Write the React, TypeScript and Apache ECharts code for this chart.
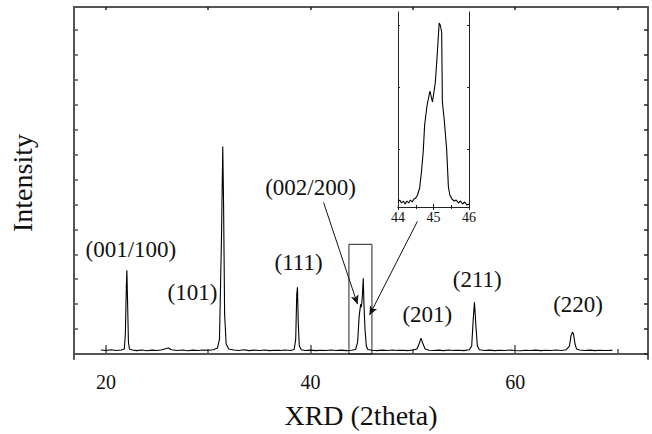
import React, { useEffect, useRef } from "react";
import * as echarts from "echarts";

// Main XRD pattern (2theta, intensity in arbitrary units)
const twoTheta = [
  19.5, 20.0, 20.5, 21.0, 21.5, 21.8, 21.9, 22.0, 22.05, 22.1, 22.2, 22.3, 22.6,
  23.0, 23.5, 24.0, 24.5, 25.0, 25.5, 25.9, 26.1, 26.4, 27.0, 27.5, 28.0, 28.5,
  29.0, 29.5, 30.0, 30.5, 30.9, 31.1, 31.3, 31.42, 31.5, 31.6, 31.75, 32.0, 32.5,
  33.0, 33.5, 34.0, 34.5, 35.0, 35.5, 36.0, 36.5, 37.0, 37.5, 38.0, 38.4, 38.55,
  38.65, 38.72, 38.8, 38.9, 39.1, 39.5, 40.0, 40.5, 41.0, 41.5, 42.0, 42.5, 43.0,
  43.5, 44.0, 44.4, 44.6, 44.75, 44.9, 44.97, 45.05, 45.15, 45.22, 45.32, 45.45,
  45.6, 46.0, 46.5, 47.0, 47.5, 48.0, 48.5, 49.0, 49.5, 50.0, 50.4, 50.6, 50.8,
  50.95, 51.2, 51.6, 52.0, 52.5, 53.0, 53.5, 54.0, 54.5, 55.0, 55.5, 55.75, 55.9,
  56.02, 56.15, 56.3, 56.5, 57.0, 57.5, 58.0, 58.5, 59.0, 59.5, 60.0, 60.5, 61.0,
  61.5, 62.0, 62.5, 63.0, 63.5, 64.0, 64.5, 65.0, 65.3, 65.45, 65.6, 65.7, 65.85,
  66.0, 66.3, 66.8, 67.3, 67.8, 68.3, 68.8, 69.5,
];
const intensity = [
  4.0, 3.5, 4.2, 3.6, 4.0, 5.0, 20, 70, 84, 60, 12, 5.0, 4.0,
  3.4, 4.1, 3.3, 3.9, 3.5, 4.3, 5.5, 6.0, 4.2, 3.6, 4.0, 3.3, 3.9,
  3.6, 4.1, 3.8, 4.3, 6.0, 15, 120, 208, 150, 40, 10, 5.0, 4.0,
  3.6, 4.2, 3.4, 3.9, 3.5, 4.1, 3.4, 3.8, 3.6, 4.0, 3.5, 4.5, 15,
  60, 67, 30, 8.0, 4.3, 3.6, 3.9, 3.4, 3.8, 3.5, 4.1, 3.6, 3.9,
  3.4, 3.8, 4.5, 12, 38, 50, 47, 56, 76, 50, 25, 8.0,
  4.5, 3.8, 3.4, 3.9, 3.5, 4.1, 3.6, 3.8, 3.4, 4.0, 5.0, 10, 16,
  11, 5.0, 3.8, 3.5, 3.9, 3.4, 4.0, 3.6, 3.8, 3.4, 4.2, 8.0, 35,
  52, 30, 8.0, 4.3, 3.6, 3.9, 3.4, 3.8, 3.5, 4.0, 3.6, 3.3, 3.8,
  3.5, 3.9, 3.4, 3.7, 3.5, 4.0, 3.6, 4.3, 8.0, 18, 22, 20, 10,
  5.0, 4.0, 3.5, 3.9, 3.4, 3.7, 3.5, 3.6,
];

// Inset: zoom on the (002/200) peak
const insetTheta = [
  44.0, 44.05, 44.1, 44.15, 44.2, 44.25, 44.3, 44.35, 44.4, 44.45, 44.5, 44.55,
  44.61, 44.66, 44.71, 44.75, 44.82, 44.9, 44.97, 45.05, 45.1, 45.16, 45.19,
  45.23, 45.25, 45.3, 45.37, 45.42, 45.46, 45.52, 45.58, 45.64, 45.7, 45.76,
  45.82, 45.88, 45.94, 46.0,
];
const insetIntensity = [
  5, 7, 4, 6, 3, 6, 4, 7, 5, 8, 9, 12,
  19, 35, 55, 82, 102, 116, 105, 124, 150, 184, 182,
  175, 105, 88, 58, 20, 12, 8, 6, 7, 4, 6,
  3, 5, 2, 3,
];

// Peak labels (hkl), placed in data coordinates
const peakLabels = ["(001/100)", "(101)", "(111)", "(002/200)", "(201)", "(211)", "(220)"];
const peakLabelX = [22.44, 28.46, 38.83, 40.0, 51.41, 56.29, 66.15];
const peakLabelY = [105, 62, 92, 167, 40, 75, 50];

// Main axis tick values
const xMajorTicks = [20, 40, 60];
const xMinorTicks = [30, 50, 70];
const xTopTicks = [20, 30, 40, 50, 60, 70];
const yTicks = [0, 25, 50, 75, 100, 125, 150, 175, 200, 225, 250, 275, 300, 325];
const insetYTicks = [58, 120, 182];

// Zoom box and arrows (data coordinates)
const zoomBox = [[43.75, 0], [46.0, 110]];
const arrowStarts = [[41.27, 152], [50.44, 133]];
const arrowEnds = [[44.59, 50], [45.76, 39]];

const FONT = '"Liberation Serif", "DejaVu Serif", serif';
const INK = "#111";
const FRAME = "#555";

export default function App() {
  const ref = useRef<HTMLDivElement>(null);
  useEffect(() => {
    if (!ref.current) return;
    const chart = echarts.init(ref.current, undefined, { renderer: "svg" });
    const mainData = twoTheta.map((t, i) => [t, intensity[i]]);
    const insetData = insetTheta.map((t, i) => [t, insetIntensity[i]]);
    const labelData = peakLabels.map((n, i) => ({ name: n, value: [peakLabelX[i], peakLabelY[i]] }));

    const frameAxisLine = { show: true, lineStyle: { color: FRAME, width: 2 } };
    chart.setOption({
      animation: false,
      backgroundColor: "#fff",
      grid: [
        { left: 73, top: 7, width: 575, height: 353 },
        { left: 398, top: 12, width: 71, height: 195, z: 10 },
      ],
      xAxis: [
        {
          gridIndex: 0, type: "value", position: "bottom", min: 16.88, max: 72.98,
          axisLine: frameAxisLine,
          axisTick: { show: true, inside: true, length: 9, customValues: xMajorTicks, lineStyle: { color: FRAME, width: 1.5 } },
          axisLabel: { customValues: xMajorTicks, fontFamily: FONT, fontSize: 20, color: INK, margin: 13 },
          splitLine: { show: false },
          name: "XRD (2theta)", nameLocation: "middle", nameGap: 42,
          nameTextStyle: { fontFamily: FONT, fontSize: 28, color: INK },
        },
        {
          gridIndex: 0, type: "value", position: "bottom", min: 16.88, max: 72.98,
          axisLine: { show: false },
          axisTick: { show: true, inside: true, length: 5, customValues: xMinorTicks, lineStyle: { color: FRAME, width: 1.5 } },
          axisLabel: { show: false },
          splitLine: { show: false },
        },
        {
          gridIndex: 0, type: "value", position: "top", min: 16.88, max: 72.98,
          axisLine: frameAxisLine,
          axisTick: { show: true, inside: true, length: 3, customValues: xTopTicks, lineStyle: { color: "#222", width: 1.5 } },
          axisLabel: { show: false },
          splitLine: { show: false },
        },
        {
          gridIndex: 1, type: "value", position: "bottom", min: 44, max: 46, interval: 1,
          axisLine: { show: true, lineStyle: { color: "#222", width: 1 } },
          axisTick: { show: true, inside: true, length: 3, lineStyle: { color: "#222" } },
          minorTick: { show: true, splitNumber: 2, length: 2, lineStyle: { color: "#222" } },
          axisLabel: { fontFamily: FONT, fontSize: 14, color: INK, margin: 3 },
          splitLine: { show: false },
        },
        {
          gridIndex: 1, type: "value", position: "top", min: 44, max: 46, interval: 1,
          axisLine: { show: true, lineStyle: { color: "#222", width: 1 } },
          axisTick: { show: true, inside: true, length: 3, lineStyle: { color: "#222" } },
          minorTick: { show: true, splitNumber: 2, length: 2, lineStyle: { color: "#222" } },
          axisLabel: { show: false },
          splitLine: { show: false },
        },
      ],
      yAxis: [
        {
          gridIndex: 0, type: "value", position: "left", min: -5, max: 348,
          axisLine: frameAxisLine,
          axisTick: { show: true, inside: true, length: 4, customValues: yTicks, lineStyle: { color: FRAME, width: 1.5 } },
          axisLabel: { show: false },
          splitLine: { show: false },
          name: "Intensity", nameLocation: "middle", nameGap: 38,
          nameTextStyle: { fontFamily: FONT, fontSize: 28, color: INK },
        },
        {
          gridIndex: 0, type: "value", position: "right", min: -5, max: 348,
          axisLine: frameAxisLine,
          axisTick: { show: true, inside: true, length: 4, customValues: yTicks, lineStyle: { color: "#222", width: 1.5 } },
          axisLabel: { show: false },
          splitLine: { show: false },
        },
        {
          gridIndex: 1, type: "value", position: "left", min: 0, max: 195,
          axisLine: { show: true, lineStyle: { color: "#222", width: 1 } },
          axisTick: { show: true, inside: true, length: 2, customValues: insetYTicks, lineStyle: { color: "#222" } },
          axisLabel: { show: false },
          splitLine: { show: false },
        },
        {
          gridIndex: 1, type: "value", position: "right", min: 0, max: 195,
          axisLine: { show: true, lineStyle: { color: "#222", width: 1 } },
          axisTick: { show: true, inside: true, length: 2, customValues: insetYTicks, lineStyle: { color: "#222" } },
          axisLabel: { show: false },
          splitLine: { show: false },
        },
      ],
      series: [
        {
          type: "line", xAxisIndex: 0, yAxisIndex: 0, data: mainData,
          showSymbol: false, symbol: "none",
          lineStyle: { color: "#000", width: 1.1 },
          markArea: {
            silent: true,
            itemStyle: { color: "rgba(0,0,0,0)", borderColor: "#222", borderWidth: 1 },
            data: [[{ coord: zoomBox[0] }, { coord: zoomBox[1] }]],
          },
          markLine: {
            silent: true,
            symbol: ["none", "arrow"],
            symbolSize: [6, 9],
            label: { show: false },
            lineStyle: { color: "#111", width: 1, type: "solid" },
            data: arrowStarts.map((s, i) => [{ coord: s }, { coord: arrowEnds[i] }]),
          },
        },
        {
          type: "scatter", xAxisIndex: 0, yAxisIndex: 0, data: labelData,
          symbolSize: 0, silent: true,
          label: {
            show: true, position: "inside", formatter: "{b}",
            fontFamily: FONT, fontSize: 23, color: INK, opacity: 1,
          },
        },
        {
          type: "line", xAxisIndex: 3, yAxisIndex: 2, data: insetData,
          showSymbol: false, symbol: "none",
          lineStyle: { color: "#000", width: 1.1 },
        },
      ],
    });
    return () => chart.dispose();
  }, []);
  return <div ref={ref} style={{ width: 652, height: 434, position: "absolute", left: 0, top: 0 }} />;
}
